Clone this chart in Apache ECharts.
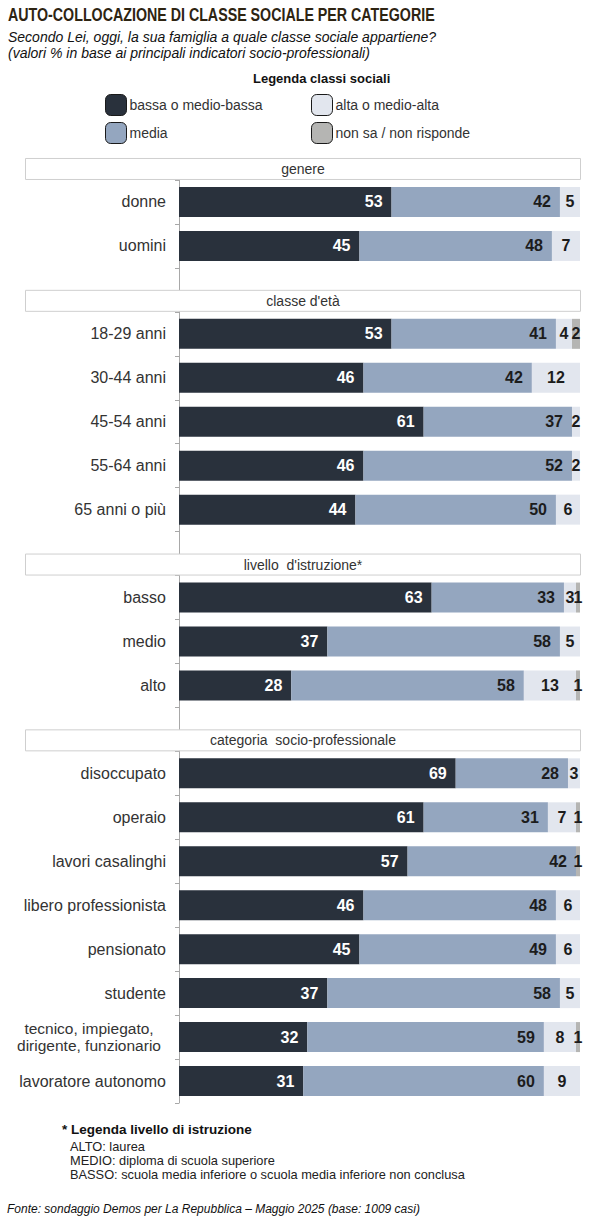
<!DOCTYPE html>
<html>
<head>
<meta charset="utf-8">
<script src="https://cdn.jsdelivr.net/npm/echarts@6/dist/echarts.min.js"></script>
<style>
html,body{margin:0;padding:0;background:#fff;}
#chart{width:600px;height:1227px;}
</style>
</head>
<body>
<div id="chart"></div>
<script>
// ---- DATA ----
var categories = [
  'donne', 'uomini', '_gap1',
  '18-29 anni', '30-44 anni', '45-54 anni', '55-64 anni', '65 anni o più', '_gap2',
  'basso', 'medio', 'alto', '_gap3',
  'disoccupato', 'operaio', 'lavori casalinghi', 'libero professionista', 'pensionato', 'studente',
  'tecnico, impiegato,\ndirigente, funzionario', 'lavoratore autonomo'
];
var bassa   = [53, 45, null, 53, 46, 61, 46, 44, null, 63, 37, 28, null, 69, 61, 57, 46, 45, 37, 32, 31];
var media   = [42, 48, null, 41, 42, 37, 52, 50, null, 33, 58, 58, null, 28, 31, 42, 48, 49, 58, 59, 60];
var alta    = [ 5,  7, null,  4, 12,  2,  2,  6, null,  3,  5, 13, null,  3,  7,  0,  6,  6,  5,  8,  9];
var nonsa   = [ 0,  0, null,  2,  0,  0,  0,  0, null,  1,  0,  1, null,  0,  1,  1,  0,  0,  0,  1,  0];
var seriesNames = ['bassa o medio-bassa', 'media', 'alta o medio-alta', 'non sa / non risponde'];
var groupHeaders = [
  {first: 'donne', text: 'genere'},
  {first: '18-29 anni', text: "classe d'età"},
  {first: 'basso', text: "livello  d'istruzione*"},
  {first: 'disoccupato', text: 'categoria  socio-professionale'}
];

// ---- STYLE ----
var colors = ['#29313c', '#94a6bf', '#e2e6ee', '#b5b5b3'];
var sans = '"Liberation Sans", Arial, sans-serif';

function lbl(color, pos, dist) {
  return {
    show: true, position: pos, distance: dist,
    color: color, fontFamily: sans, fontWeight: 'bold', fontSize: 16,
    formatter: function (p) { return p.value ? String(p.value) : ''; }
  };
}

var data4 = [bassa, media, alta, nonsa];
var labels = [
  lbl('#ffffff', 'insideRight', 9),
  lbl('#1c1c1c', 'insideRight', 9),
  lbl('#1c1c1c', 'inside', 0),
  lbl('#1c1c1c', 'inside', 0)
];

var series = seriesNames.map(function (n, i) {
  return {
    name: n, type: 'bar', stack: 'tot', barWidth: 30,
    data: data4[i],
    itemStyle: {color: colors[i]},
    label: labels[i],
    emphasis: {disabled: true},
    z: 2
  };
});

var legendCommon = {
  orient: 'vertical',
  itemWidth: 21, itemHeight: 21, itemGap: 6,
  icon: 'roundRect',
  selectedMode: false,
  itemStyle: {borderColor: '#1a1a1a', borderWidth: 1},
  textStyle: {fontFamily: sans, fontSize: 14, color: '#333', padding: [0, 0, 0, -2]}
};

var chart = echarts.init(document.getElementById('chart'), null, {renderer: 'svg'});

var option = {
  animation: false,
  backgroundColor: '#ffffff',
  title: [
    {
      text: 'Secondo Lei, oggi, la sua famiglia a quale classe sociale appartiene?\n(valori % in base ai principali indicatori socio-professionali)',
      left: 3, top: 24,
      textStyle: {fontFamily: sans, fontStyle: 'italic', fontWeight: 'normal', fontSize: 14, lineHeight: 16, color: '#111'}
    },
    {
      text: 'Legenda classi sociali',
      left: 248, top: 67,
      textStyle: {fontFamily: sans, fontWeight: 'bold', fontSize: 13, color: '#111'}
    },
    {
      text: '* Legenda livello di istruzione',
      left: 57, top: 1117,
      textStyle: {fontFamily: sans, fontWeight: 'bold', fontSize: 13.5, color: '#111'}
    },
    {
      text: 'ALTO: laurea\nMEDIO: diploma di scuola superiore\nBASSO: scuola media inferiore o scuola media inferiore non conclusa',
      left: 65, top: 1134,
      textStyle: {fontFamily: sans, fontWeight: 'normal', fontSize: 12.8, lineHeight: 14, color: '#222'}
    },
    {
      text: 'Fonte: sondaggio Demos per La Repubblica – Maggio 2025 (base: 1009 casi)',
      left: 2, top: 1198,
      textStyle: {fontFamily: sans, fontStyle: 'italic', fontWeight: 'normal', fontSize: 12, color: '#111'}
    }
  ],
  legend: [
    Object.assign({data: [seriesNames[0], seriesNames[1]], left: 100, top: 89}, legendCommon),
    Object.assign({data: [seriesNames[2], seriesNames[3]], left: 306, top: 89}, legendCommon)
  ],
  grid: {left: 179, right: 20, top: 180, bottom: 124, containLabel: false},
  xAxis: {
    type: 'value', min: 0, max: 100, show: false
  },
  yAxis: {
    type: 'category', inverse: true, data: categories,
    axisLine: {show: true, lineStyle: {color: '#a8a8a8', width: 1}},
    axisTick: {show: true, length: 4, lineStyle: {color: '#a8a8a8'}},
    axisLabel: {
      margin: 13,
      fontFamily: sans, fontSize: 16, color: '#333',
      formatter: function (v) {
        if (v.charAt(0) === '_') return '';
        if (v.indexOf('\n') >= 0) {
          return v.split('\n').map(function (s) { return '{c|' + s + '}'; }).join('\n');
        }
        return v;
      },
      rich: {c: {width: 154, align: 'center', fontFamily: sans, fontSize: 15.5, color: '#333', lineHeight: 17}}
    }
  },
  series: series
};
chart.setOption(option);

// title (condensed) and group header boxes positioned from the category scale
var graphics = [{
  type: 'text', z: 101, x: 8, y: 5, scaleX: 0.75,
  style: {text: 'AUTO-COLLOCAZIONE DI CLASSE SOCIALE PER CATEGORIE', fontFamily: sans, fontWeight: 'bold', fontSize: 19, fill: '#2e2412', align: 'left', verticalAlign: 'top'}
}];
groupHeaders.forEach(function (g) {
  var cy = chart.convertToPixel({yAxisIndex: 0}, g.first);
  var bottom = cy - 22;
  graphics.push({
    type: 'rect', z: 100,
    shape: {x: 25.5, y: bottom - 21.5, width: 555, height: 21},
    style: {fill: '#ffffff', stroke: '#cfcfcf', lineWidth: 1}
  });
  graphics.push({
    type: 'text', z: 101,
    x: 303, y: bottom - 11,
    style: {text: g.text, fontFamily: sans, fontSize: 14, fill: '#333', align: 'center', verticalAlign: 'middle'}
  });
});
chart.setOption({graphic: graphics});
</script>
</body>
</html>
